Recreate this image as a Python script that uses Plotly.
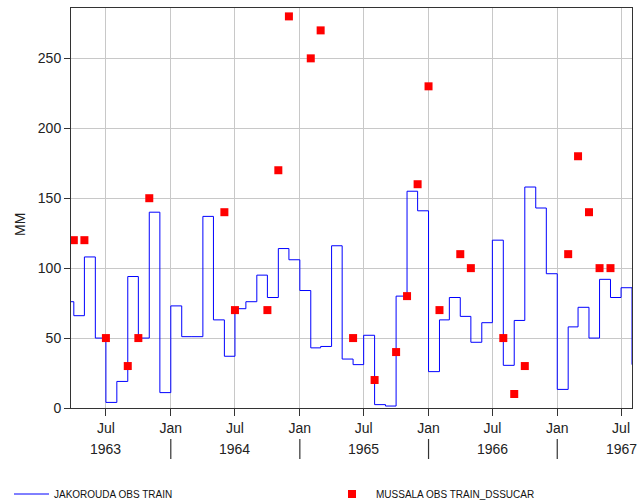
import pandas as pd
import plotly.graph_objects as go

# ---------------- data ----------------
blue_months = pd.date_range("1963-03-01", periods=54, freq="MS")
blue_values = [
    76, 66, 108, 50, 4, 19, 94, 50, 140, 11,                       # 1963 Mar-Dec
    73, 51, 51, 137, 63, 37, 71, 76, 95, 79, 114, 106,             # 1964
    84, 43, 44, 116, 35, 31, 52, 2.4, 1.4, 80, 155, 141,           # 1965
    26, 63, 79, 65.5, 47, 61, 120, 30.5, 62.6, 158, 143, 96,       # 1966
    13.3, 58, 72, 50, 92, 79, 86, 31,                              # 1967 Jan-Aug
]

red_months = [
    "1963-04-01", "1963-05-01", "1963-07-01", "1963-09-01", "1963-10-01", "1963-11-01",
    "1964-06-01", "1964-07-01", "1964-10-01", "1964-11-01", "1964-12-01",
    "1965-02-01", "1965-03-01", "1965-06-01", "1965-08-01", "1965-10-01", "1965-11-01", "1965-12-01",
    "1966-01-01", "1966-02-01", "1966-04-01", "1966-05-01", "1966-08-01", "1966-09-01", "1966-10-01",
    "1967-02-01", "1967-03-01", "1967-04-01", "1967-05-01", "1967-06-01",
]
red_values = [
    120, 120, 50, 30, 50, 150,
    140, 70, 70, 170, 280,
    250, 270, 50, 20, 40, 80, 160,
    230, 70, 110, 100, 50, 10, 30,
    110, 180, 140, 100, 100,
]

tick_dates = ["1963-07-01", "1964-01-01", "1964-07-01", "1965-01-01", "1965-07-01",
              "1966-01-01", "1966-07-01", "1967-01-01", "1967-07-01"]
tick_labels = ["Jul", "Jan", "Jul", "Jan", "Jul", "Jan", "Jul", "Jan", "Jul"]
year_labels = ["1963", "1964", "1965", "1966", "1967"]
year_label_dates = ["1963-07-01", "1964-07-01", "1965-07-01", "1966-07-01", "1967-07-01"]
year_sep_dates = ["1964-01-01", "1965-01-01", "1966-01-01", "1967-01-01"]
y_ticks = [0, 50, 100, 150, 200, 250]

FONT = "Liberation Sans, Arial, sans-serif"

fig = go.Figure()
fig.add_trace(go.Scatter(
    x=blue_months, y=blue_values, mode="lines", line_shape="hv",
    line=dict(color="#0000ff", width=1), name="JAKOROUDA OBS TRAIN", legend="legend",
))
fig.add_trace(go.Scatter(
    x=red_months, y=red_values, mode="markers",
    marker=dict(symbol="square", size=8, color="#ff0000", line=dict(width=0)),
    name="MUSSALA OBS TRAIN_DSSUCAR", legend="legend2",
))

annotations = [
    dict(text=t, x=d, xref="x", y=0, yref="paper", yshift=-41, showarrow=False,
         xanchor="center", yanchor="middle", font=dict(size=14, color="#222", family=FONT))
    for t, d in zip(year_labels, year_label_dates)
]
annotations.append(dict(text="MM", textangle=-90, x=-0.0909, xref="paper", y=0.4575, yref="paper",
                        showarrow=False, xanchor="center", yanchor="middle",
                        font=dict(size=14, color="#222", family=FONT)))

shapes = [
    dict(type="line", xref="x", yref="paper", x0=d, x1=d, y0=-0.0775, y1=-0.1275,
         line=dict(color="#333", width=1.2))
    for d in year_sep_dates
]

fig.update_layout(
    width=639, height=504,
    margin=dict(l=71, r=7, t=8, b=96),
    paper_bgcolor="white", plot_bgcolor="white",
    font=dict(family=FONT, size=14, color="#222"),
    showlegend=True,
    hovermode=False,
    legend=dict(xref="container", yref="container", x=9 / 639, y=10 / 504,
                xanchor="left", yanchor="middle", orientation="h",
                font=dict(size=10, color="#111", family=FONT), itemwidth=35,
                bgcolor="rgba(0,0,0,0)"),
    legend2=dict(xref="container", yref="container", x=328 / 639, y=10 / 504,
                 xanchor="left", yanchor="middle", orientation="h",
                 font=dict(size=10, color="#111", family=FONT), itemwidth=38,
                 bgcolor="rgba(0,0,0,0)"),
    annotations=annotations,
    shapes=shapes,
    xaxis=dict(type="date", range=["1963-03-24", "1967-08-01"],
               tickmode="array", tickvals=tick_dates, ticktext=tick_labels,
               ticks="outside", ticklen=7, tickcolor="#333",
               showgrid=True, gridcolor="#c8c8c8", gridwidth=1,
               showline=True, linecolor="#333", linewidth=1, mirror=True,
               tickfont=dict(size=14, color="#222", family=FONT), zeroline=False),
    yaxis=dict(range=[0, 286], tickmode="array", tickvals=y_ticks,
               ticks="outside", ticklen=6, tickcolor="#333",
               showgrid=True, gridcolor="#c8c8c8", gridwidth=1,
               showline=True, linecolor="#333", linewidth=1, mirror=True,
               tickfont=dict(size=14, color="#222", family=FONT), zeroline=False),
)

fig.write_html("out.html",
               config={"displayModeBar": False},
               post_script="document.body.style.margin='0';document.body.style.padding='0';")
